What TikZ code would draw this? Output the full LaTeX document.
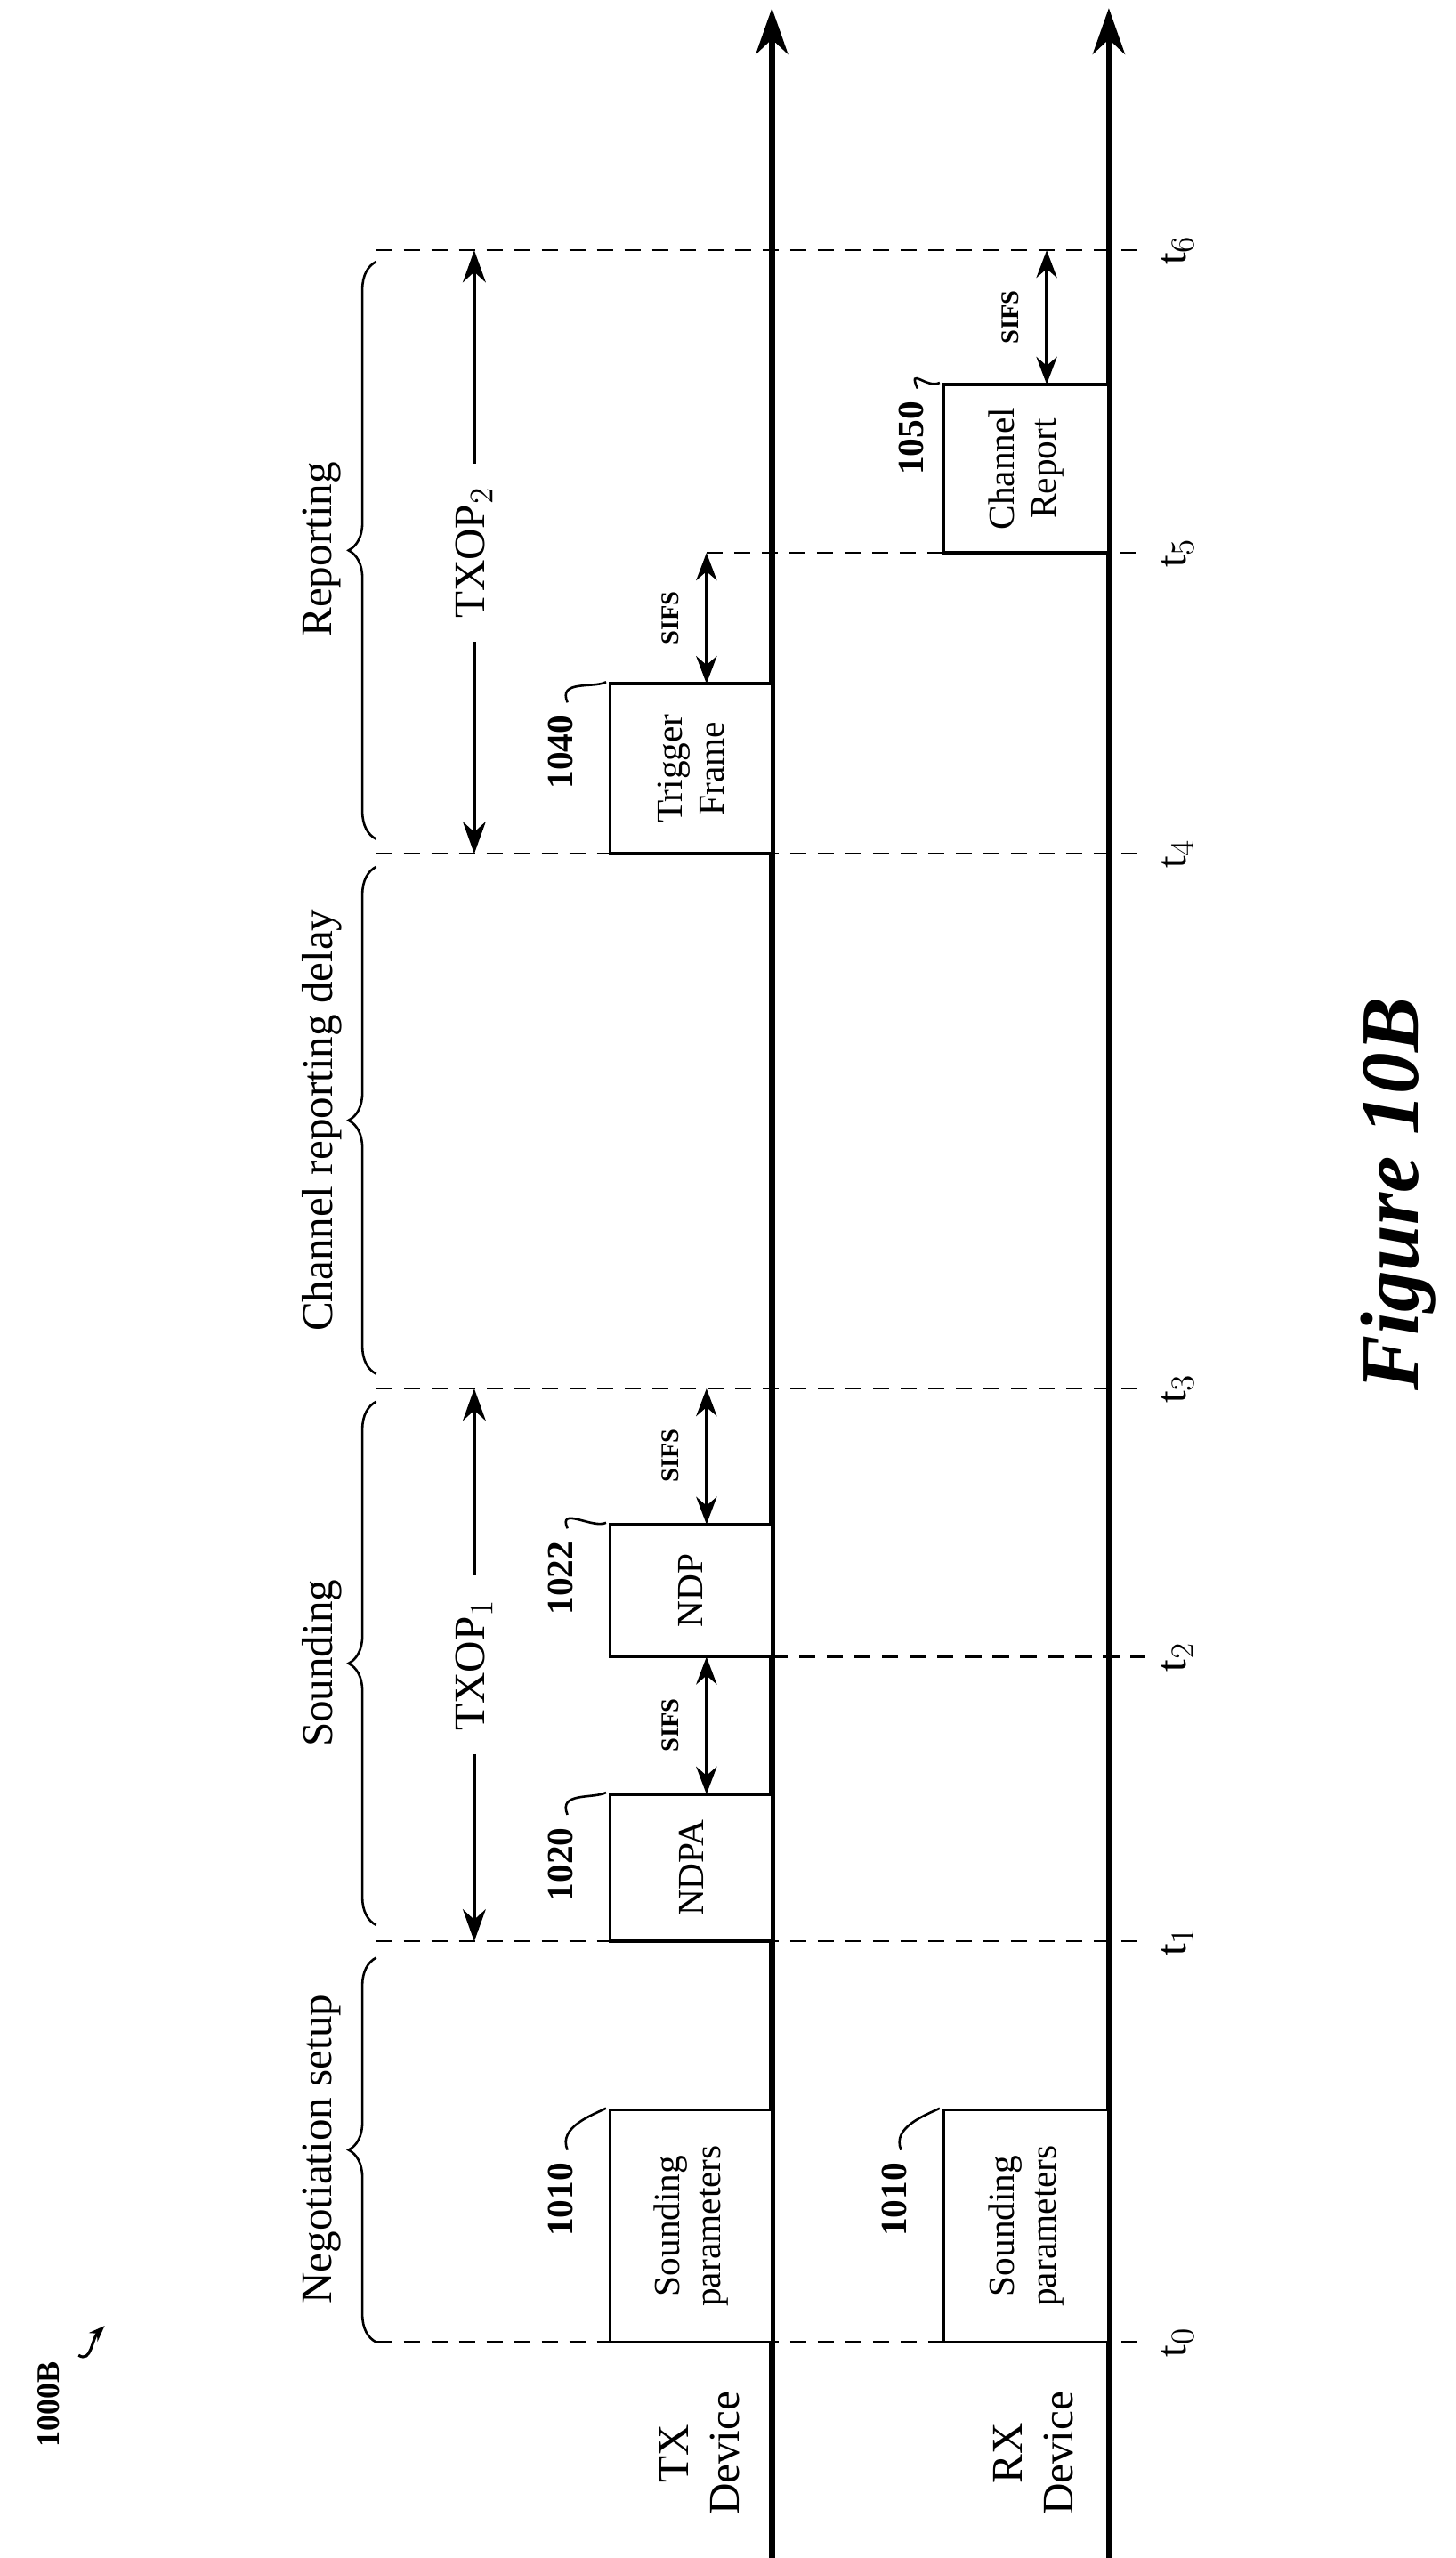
\documentclass[tikz,border=0pt]{standalone}
\usepackage{fontspec}
\setmainfont{Liberation Serif}
\usetikzlibrary{arrows.meta,decorations.pathreplacing}

\begin{document}
\begin{tikzpicture}
    [x=0.025cm,y=-0.025cm,
     every node/.style={rotate=90,font=\fontsize{19}{22}\selectfont},
     frame/.style={draw,line width=1.4pt,fill=white,align=center,inner sep=0pt,font=\fontsize{16}{18}\selectfont},
     tick/.style={dash pattern=on 7pt off 5pt,line width=0.9pt},
     gap/.style={<->,>={Stealth[length=12pt,width=9pt]},line width=1.3pt},
     refnum/.style={font=\bfseries\fontsize{16}{18}\selectfont},
     sifs/.style={font=\bfseries\fontsize{11}{13}\selectfont},
     grp/.style={decorate,decoration={brace,amplitude=12pt},line width=1pt}]
    \useasboundingbox (0,0) rectangle (890,1564);

    % time axes
    \coordinate (txb) at (472,1564);
    \coordinate (txt) at (472,5);
    \coordinate (rxb) at (678,1564);
    \coordinate (rxt) at (678,5);
    \draw[line width=2.5pt,-{Stealth[length=20pt,width=14pt]}] (txb) -- (txt);
    \draw[line width=2.5pt,-{Stealth[length=20pt,width=14pt]}] (rxb) -- (rxt);

    % time marks
    \foreach \n/\y/\s in {0/1432/230, 1/1187/230, 2/1013/472, 3/849/230,
                          4/522/230, 5/338/432, 6/153/230}
    {
        \coordinate (a\n) at (\s,\y);
        \coordinate (b\n) at (700,\y);
        \draw[tick] (a\n) -- (b\n);
        \node (t\n) at (720,\y) {t$_{\n}$};
    }

    % braces
    \draw[grp] (230,1432) -- (230,1197);
    \draw[grp] (230,1177) -- (230,857);
    \draw[grp] (230,840) -- (230,530);
    \draw[grp] (230,513) -- (230,160);
    \node (neg) at (197,1314) {Negotiation setup};
    \node (snd) at (197,1017) {Sounding};
    \node (crd) at (197,685) {Channel reporting delay};
    \node (rep) at (197,336) {Reporting};

    % TXOP
    \node[inner xsep=10pt] (txop1) at (290,1018) {TXOP$_1$};
    \node[inner xsep=10pt] (txop2) at (290,338) {TXOP$_2$};
    \draw[line width=1.3pt,-{Stealth[length=14pt,width=10pt]}] (txop1.east) -- (290,849);
    \draw[line width=1.3pt,-{Stealth[length=14pt,width=10pt]}] (txop1.west) -- (290,1187);
    \draw[line width=1.3pt,-{Stealth[length=14pt,width=10pt]}] (txop2.east) -- (290,153);
    \draw[line width=1.3pt,-{Stealth[length=14pt,width=10pt]}] (txop2.west) -- (290,522);

    % frames
    \node[frame,minimum width=3.55cm,minimum height=2.475cm] (sp-tx) at (422.5,1361) {Sounding\\parameters};
    \node[frame,minimum width=2.25cm,minimum height=2.475cm] (ndpa) at (422.5,1142) {NDPA};
    \node[frame,minimum width=2.025cm,minimum height=2.475cm] (ndp) at (422.5,972.5) {NDP};
    \node[frame,minimum width=2.6cm,minimum height=2.475cm] (trig) at (422.5,470) {Trigger\\Frame};
    \node[frame,minimum width=3.55cm,minimum height=2.525cm] (sp-rx) at (627.5,1361) {Sounding\\parameters};
    \node[frame,minimum width=2.575cm,minimum height=2.525cm] (rpt) at (627.5,286.5) {Channel\\Report};

    % reference numbers
    \node[refnum] (r1010a) at (343,1345) {1010};
    \node[refnum] (r1020) at (343,1140) {1020};
    \node[refnum] (r1022) at (343,965) {1022};
    \node[refnum] (r1040) at (343,460) {1040};
    \node[refnum] (r1010b) at (547,1345) {1010};
    \node[refnum] (r1050) at (557,268) {1050};
    \foreach \r/\b in {r1010a/sp-tx, r1020/ndpa, r1022/ndp, r1040/trig, r1010b/sp-rx, r1050/rpt}
        \draw[line width=1pt] ([shift={(4,-3)}]\r.east) .. controls +(-6,-14) and +(-8,4) .. ([xshift=-1pt]\b.north east);

    % SIFS gaps
    \draw[gap] (432,1097) -- (432,1013);
    \draw[gap] (432,932) -- (432,849);
    \draw[gap] (432,418) -- (432,338);
    \draw[gap] (640,235) -- (640,153);
    \node[sifs] (s1) at (410,1055) {SIFS};
    \node[sifs] (s2) at (410,890) {SIFS};
    \node[sifs] (s3) at (410,378) {SIFS};
    \node[sifs] (s4) at (618,194) {SIFS};

    % devices
    \node[align=center] (txdev) at (428,1500) {TX\\Device};
    \node[align=center] (rxdev) at (632,1500) {RX\\Device};

    % figure label
    \node[font=\bfseries\fontsize{14}{16}\selectfont] (fig) at (30,1470) {1000B};
    \coordinate (sq) at (48,1440);
    \draw[line width=1.2pt,-{Stealth[length=7pt]}] (sq) .. controls (56,1445) and (56,1430) .. (64,1422);
    \node[font=\bfseries\itshape\fontsize{36}{40}\selectfont] (title) at (855,730) {Figure 10B};
\end{tikzpicture}
\end{document}
